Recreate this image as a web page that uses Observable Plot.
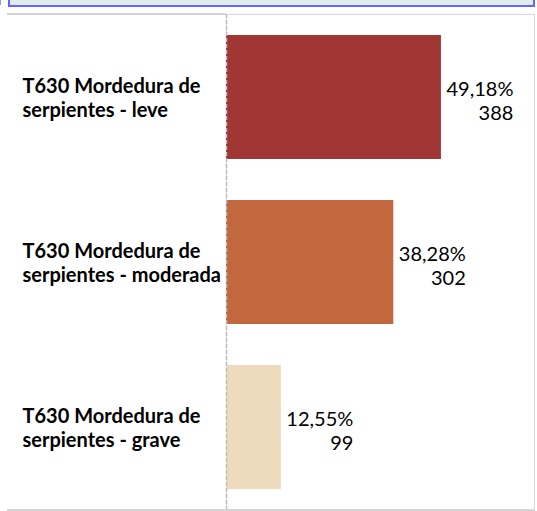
<!DOCTYPE html>
<html>
<head>
<meta charset="utf-8">
<script src="https://cdn.jsdelivr.net/npm/d3@7"></script>
<script src="https://cdn.jsdelivr.net/npm/@observablehq/plot@0.6"></script>
<style>
  html, body { margin: 0; padding: 0; background: #fff; overflow: hidden; }
  #wrap { position: relative; width: 537px; height: 511px; }
  #topbox { position: absolute; left: 8px; top: -12px; width: 523px; height: 15px;
            border: 2px solid #6464ff; background: #dfecea; }
  #tick { position: absolute; left: 0; top: 0; width: 1px; height: 5px; background: #8aa0d8; }
  #chart { position: absolute; left: 0; top: 0; }
</style>
</head>
<body>
<div id="wrap">
  <div id="chart"></div>
  <div id="topbox"></div>
  <div id="tick"></div>
</div>
<script>
const categories = [
  "T630 Mordedura de serpientes - leve",
  "T630 Mordedura de serpientes - moderada",
  "T630 Mordedura de serpientes - grave"
];
const counts = [388, 302, 99];
const percents = ["49,18%", "38,28%", "12,55%"];
const colors = ["#a03734", "#c1683f", "#eedbbd"];

const data = categories.map((c, i) => ({
  category: c,
  label: c.replace("de serpientes", "de\nserpientes"),
  count: counts[i],
  text: percents[i] + "\n" + counts[i]
}));

const W = 537, H = 511;
const mL = 226, mR = 3, mT = 14, mB = 1;

const chart = Plot.plot({
  width: W,
  height: H,
  marginLeft: mL,
  marginRight: mR,
  marginTop: mT,
  marginBottom: mB,
  style: { fontFamily: "Lato, sans-serif", background: "transparent", overflow: "visible" },
  x: { domain: [0, 556], axis: null },
  y: { domain: categories, axis: null, paddingInner: 0.25, paddingOuter: 0.125 },
  color: { domain: categories, range: colors },
  marks: [
    Plot.frame({ stroke: "#d9d9d9", strokeWidth: 1 }),
    Plot.barX(data, { x: "count", y: "category", fill: "category" }),
    Plot.ruleX([0], { stroke: "#bdbdbd", strokeWidth: 1.5, strokeDasharray: "4,2" }),
    Plot.text(data, {
      x: "count", y: "category", text: "text",
      textAnchor: "end", dx: 72, dy: 3, lineHeight: 1.2,
      fontSize: 20, fill: "#000"
    }),
    Plot.text(data, {
      y: "category", frameAnchor: "left", text: "label",
      textAnchor: "start", dx: -204, dy: 0, lineHeight: 1.2,
      fontSize: 20, fontWeight: "bold", fill: "#000"
    })
  ]
});

// left panel border lines (decoration)
const svg = d3.select(chart);
svg.append("line").attr("x1", 7).attr("x2", mL).attr("y1", 14).attr("y2", 14)
  .attr("stroke", "#d4d4d4").attr("stroke-width", 2);
svg.append("line").attr("x1", 7).attr("x2", W - mR + 1).attr("y1", 510).attr("y2", 510)
  .attr("stroke", "#d4d4d4").attr("stroke-width", 2);

document.getElementById("chart").appendChild(chart);
</script>
</body>
</html>
